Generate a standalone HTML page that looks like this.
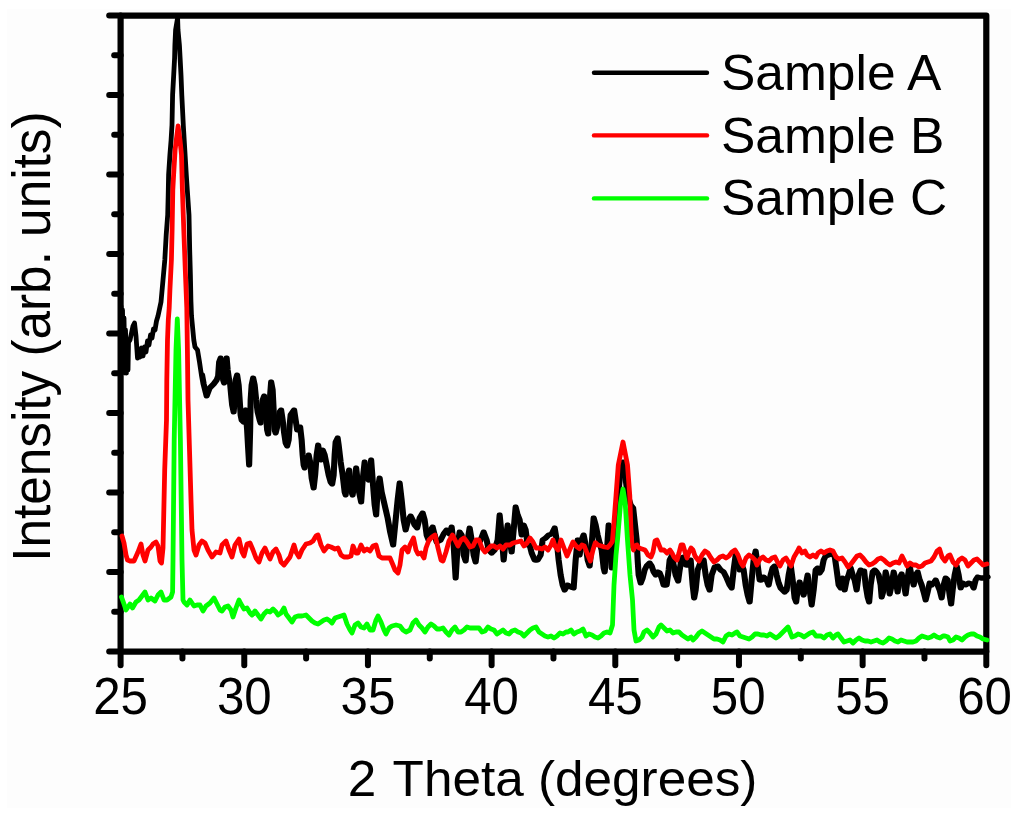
<!DOCTYPE html>
<html><head><meta charset="utf-8"><style>
html,body{margin:0;padding:0;background:#fff;}
svg{display:block;}
text{font-family:"Liberation Sans",sans-serif;fill:#000;}
</style></head><body>
<svg width="1024" height="819" viewBox="0 0 1024 819">
<rect x="0" y="0" width="1024" height="819" fill="#ffffff"/>
<rect x="7" y="9" width="1004" height="799" fill="#fdfdfd"/>
<g stroke="#000" stroke-width="6.0" stroke-linecap="round" fill="none">
<line x1="120.6" y1="15.60" x2="109.2" y2="15.60"/>
<line x1="120.6" y1="55.35" x2="114.2" y2="55.35"/>
<line x1="120.6" y1="95.10" x2="109.2" y2="95.10"/>
<line x1="120.6" y1="134.85" x2="114.2" y2="134.85"/>
<line x1="120.6" y1="174.60" x2="109.2" y2="174.60"/>
<line x1="120.6" y1="214.35" x2="114.2" y2="214.35"/>
<line x1="120.6" y1="254.10" x2="109.2" y2="254.10"/>
<line x1="120.6" y1="293.85" x2="114.2" y2="293.85"/>
<line x1="120.6" y1="333.60" x2="109.2" y2="333.60"/>
<line x1="120.6" y1="373.35" x2="114.2" y2="373.35"/>
<line x1="120.6" y1="413.10" x2="109.2" y2="413.10"/>
<line x1="120.6" y1="452.85" x2="114.2" y2="452.85"/>
<line x1="120.6" y1="492.60" x2="109.2" y2="492.60"/>
<line x1="120.6" y1="532.35" x2="114.2" y2="532.35"/>
<line x1="120.6" y1="572.10" x2="109.2" y2="572.10"/>
<line x1="120.6" y1="611.85" x2="114.2" y2="611.85"/>
<line x1="120.6" y1="651.60" x2="109.2" y2="651.60"/>
<line x1="120.60" y1="651.6" x2="120.60" y2="665.3"/>
<line x1="182.44" y1="651.6" x2="182.44" y2="658.5"/>
<line x1="244.27" y1="651.6" x2="244.27" y2="665.3"/>
<line x1="306.11" y1="651.6" x2="306.11" y2="658.5"/>
<line x1="367.94" y1="651.6" x2="367.94" y2="665.3"/>
<line x1="429.78" y1="651.6" x2="429.78" y2="658.5"/>
<line x1="491.61" y1="651.6" x2="491.61" y2="665.3"/>
<line x1="553.45" y1="651.6" x2="553.45" y2="658.5"/>
<line x1="615.29" y1="651.6" x2="615.29" y2="665.3"/>
<line x1="677.12" y1="651.6" x2="677.12" y2="658.5"/>
<line x1="738.96" y1="651.6" x2="738.96" y2="665.3"/>
<line x1="800.79" y1="651.6" x2="800.79" y2="658.5"/>
<line x1="862.63" y1="651.6" x2="862.63" y2="665.3"/>
<line x1="924.46" y1="651.6" x2="924.46" y2="658.5"/>
<line x1="986.30" y1="651.6" x2="986.30" y2="665.3"/>
</g>
<rect x="120.6" y="15.6" width="865.70" height="636.00" fill="none" stroke="#000" stroke-width="6.2" stroke-linejoin="round"/>
<g fill="none" stroke-width="4.8" stroke-linejoin="round" stroke-linecap="round">
<path stroke="#000" d="M121,306 L122,340 L122.5,310 L123.5,372 L124,318 L125,373 L125.5,330 L126.5,373 L127,340 L128,370 L128.5,342 L130,340 L131.5,333 L133,326 L134.5,323 L136,336 L137.5,358 L139,350 L140,357 L141.5,348 L143,356 L144.5,347 L146,352 L147.5,341 L149,345 L150.5,335 L152,338 L153.5,329 L155,330 L156.5,321 L158,316 L159.5,309 L161,302 L163,280 L164.8,260 L166.2,235 L167.7,215 L168.2,195 L168.6,175 L169.9,155 L171.1,140 L172,125 L172.6,95 L173.7,75 L174.6,58 L174.9,45 L175.6,30 L177.6,18 L178,30 L179.4,45 L180.1,58 L181,75 L181.8,95 L183.3,125 L185.1,155 L186.3,175 L187.3,190 L189,215 L189.7,250 L190.4,275 L190.9,300 L191.5,316 L193.8,340 L195,347 L197.5,350 L198.5,356 L199.5,362 L201.4,375 L203,384 L204.5,390 L206,396 L207.5,392 L209,388 L211,386 L213,384 L216,380 L217.5,376 L218.5,362 L220,358 L221.5,362 L222.5,380 L223.5,383 L225,370 L226,358 L227,370 L228.5,380 L229.5,384 L230.5,395 L231.5,405 L233,412 L234,400 L235,380 L236.5,375 L238,385 L239,400 L240,415 L241,420 L243,422 L244,412 L245,410 L246.5,430 L247.5,448 L248.5,465 L249.5,430 L250,400 L251,385 L252.5,378 L254,385 L255.5,400 L257,412 L259,420 L260,423 L261,410 L262,400 L263.5,396 L265,410 L266.5,430 L267.5,434 L268.5,420 L269.5,395 L270.5,382 L272,390 L273,410 L274,430 L275,433 L277,425 L279,412 L280.5,410 L282,420 L283.5,433 L285,443 L286.5,446 L288,440 L289,425 L290,415 L293.5,410 L295,420 L296.5,430 L298,428 L299.5,427 L301,440 L302,455 L303,465 L304,468 L306,460 L308,455 L309.5,462 L311,478 L313,488 L314.5,475 L316,455 L317.5,445 L319,455 L320.5,460 L322,450 L324,455 L326,465 L328,475 L330,482 L331.5,484 L333,475 L334,455 L335,442 L337,438 L338,445 L340,462 L342,475 L344,492 L345,495 L347,475 L348.5,470 L350,490 L352,495 L354,480 L355.5,468 L358,490 L360.5,502 L362,480 L364,462 L366,478 L368,480 L370.5,460 L372,480 L374,505 L375.5,515 L377,490 L379,478 L381,492 L384,505 L387,518 L389.5,532 L392.5,545 L395,520 L397,500 L399,483 L401,500 L403,520 L405,530 L407.5,520 L410,516 L412,520 L414,525 L416.5,528 L419,518 L422,513 L424,520 L426,535 L428,540 L430,530 L432,527 L434,535 L436,542 L440,540 L443,534 L446,530 L449,534 L451,527 L453,545 L455,578 L457,545 L459,532 L461,535 L463,555 L465,561 L467,540 L469,528 L471,540 L473,555 L475,562 L477,545 L480,540 L483,532 L486,540 L488,550 L491,553 L494,550 L497,540 L499,515 L501,535 L503,560 L505,540 L507,525 L509,540 L511,552 L513,530 L515,507 L517,515 L519,520 L521,535 L523,525 L525,530 L527,545 L529,545 L531,553 L534,560 L537,560 L540,555 L542,540 L545,538 L548,535 L551,534 L554,528 L556,540 L558,560 L560,575 L562,585 L564,590 L567,585 L570,587 L573,588 L575,560 L577,540 L579,555 L581,540 L583,535 L585,545 L587,560 L589,566 L591,545 L593,518 L595,525 L597,535 L599,543 L601,550 L603,568 L604,572 L606,555 L608,525 L610,540 L611,568 L613,545 L615,520 L618,490 L620,470 L622.5,462 L624.5,475 L627,495 L630,505 L632.5,508 L636,540 L637,560 L638,575 L640,583 L642,578 L644,570 L646,566 L649,563 L651,566 L653,572 L655,575 L657,572 L659,573 L661,578 L663,585 L666,585 L668,570 L669,560 L671,556 L673,565 L675,575 L677.5,581 L679,570 L681,558 L683,557 L685,565 L688,565 L690,560 L692,585 L693.5,598 L695,590 L697,570 L699,565 L700,562 L703,560 L705,575 L707,585 L709,590 L711,575 L714,567 L717,566 L720,570 L723,572 L726,578 L729,585 L731,588 L733,570 L735,555 L737,560 L739,570 L741,565 L743,570 L745,585 L747,595 L749,602 L751,580 L753,560 L755,551 L757,565 L759,580 L761,580 L763,577 L766,580 L768,585 L770,575 L772,568 L774,566 L776,575 L778,583 L780,588 L782,590 L784,592 L786,590 L788,575 L790,565 L792,580 L794,598 L795.5,602 L797,590 L799,582 L801,590 L803,595 L805,585 L807,575 L809,590 L811,605 L813,590 L815,570 L817,568 L819,573 L821,570 L823,560 L825,556 L828,555 L831,554 L834,556 L836,570 L838,585 L840,588 L842,578 L844,590 L846,580 L848,575 L850,568 L852,575 L854,580 L856,590 L858,575 L860,570 L862,573 L863.5,571 L865,585 L867,597 L868.5,602 L870,585 L872,572 L874,570 L876,572 L878,575 L880,585 L881,597 L883,590 L885,572 L887,580 L889,594 L891,585 L893,572 L895,580 L897,592 L899,578 L901,574 L903,583 L905,594 L907,578 L909,566 L911,577 L913,585 L915,575 L917,572 L919,580 L921,585 L923,592 L925,600 L927,592 L929,583 L931,585 L933,583 L935,580 L937,585 L939,590 L941,598 L943,585 L945,578 L947,580 L949,595 L950.5,604 L952,590 L954,575 L956,566 L958,575 L960,588 L962,583 L965,585 L968,583 L971,584 L973,588 L975,580 L977,577 L980,578 L983,578 L987,577"/>
<path stroke="#000" transform="translate(1.3,0)" d="M201.4,375 L203,384 L204.5,390 L206,396 L207.5,392 L209,388 L211,386 L213,384 L216,380 L217.5,376 L218.5,362 L220,358 L221.5,362 L222.5,380 L223.5,383 L225,370 L226,358 L227,370 L228.5,380 L229.5,384 L230.5,395 L231.5,405 L233,412 L234,400 L235,380 L236.5,375 L238,385 L239,400 L240,415 L241,420 L243,422 L244,412 L245,410 L246.5,430 L247.5,448 L248.5,465 L249.5,430 L250,400 L251,385 L252.5,378 L254,385 L255.5,400 L257,412 L259,420 L260,423 L261,410 L262,400 L263.5,396 L265,410 L266.5,430 L267.5,434 L268.5,420 L269.5,395 L270.5,382 L272,390 L273,410 L274,430 L275,433 L277,425 L279,412 L280.5,410 L282,420 L283.5,433 L285,443 L286.5,446 L288,440 L289,425 L290,415 L293.5,410 L295,420 L296.5,430 L298,428 L299.5,427 L301,440 L302,455 L303,465 L304,468 L306,460 L308,455 L309.5,462 L311,478 L313,488 L314.5,475 L316,455 L317.5,445 L319,455 L320.5,460 L322,450 L324,455 L326,465 L328,475 L330,482 L331.5,484 L333,475 L334,455 L335,442 L337,438 L338,445 L340,462 L342,475 L344,492 L345,495 L347,475 L348.5,470 L350,490 L352,495 L354,480 L355.5,468 L358,490 L360.5,502 L362,480 L364,462 L366,478 L368,480 L370.5,460 L372,480 L374,505 L375.5,515 L377,490 L379,478 L381,492 L384,505 L387,518 L389.5,532 L392.5,545 L395,520 L397,500 L399,483 L401,500 L403,520 L405,530 L407.5,520 L410,516 L412,520 L414,525 L416.5,528 L419,518 L422,513 L424,520 L426,535 L428,540 L430,530 L432,527 L434,535 L436,542 L440,540 L443,534 L446,530 L449,534 L451,527 L453,545 L455,578 L457,545 L459,532 L461,535 L463,555 L465,561 L467,540 L469,528 L471,540 L473,555 L475,562 L477,545 L480,540 L483,532 L486,540 L488,550 L491,553 L494,550 L497,540 L499,515 L501,535 L503,560 L505,540 L507,525 L509,540 L511,552 L513,530 L515,507 L517,515 L519,520 L521,535 L523,525 L525,530 L527,545 L529,545 L531,553 L534,560 L537,560 L540,555 L542,540 L545,538 L548,535 L551,534 L554,528 L556,540 L558,560 L560,575 L562,585 L564,590 L567,585 L570,587 L573,588 L575,560 L577,540 L579,555 L581,540 L583,535 L585,545 L587,560 L589,566 L591,545 L593,518 L595,525 L597,535 L599,543 L601,550 L603,568 L604,572 L606,555 L608,525 L610,540 L611,568 L613,545 L615,520 L618,490 L620,470 L622.5,462 L624.5,475 L627,495 L630,505 L632.5,508 L636,540 L637,560 L638,575 L640,583 L642,578 L644,570 L646,566 L649,563 L651,566 L653,572 L655,575 L657,572 L659,573 L661,578 L663,585 L666,585 L668,570 L669,560 L671,556 L673,565 L675,575 L677.5,581 L679,570 L681,558 L683,557 L685,565 L688,565 L690,560 L692,585 L693.5,598 L695,590 L697,570 L699,565 L700,562 L703,560 L705,575 L707,585 L709,590 L711,575 L714,567 L717,566 L720,570 L723,572 L726,578 L729,585 L731,588 L733,570 L735,555 L737,560 L739,570 L741,565 L743,570 L745,585 L747,595 L749,602 L751,580 L753,560 L755,551 L757,565 L759,580 L761,580 L763,577 L766,580 L768,585 L770,575 L772,568 L774,566 L776,575 L778,583 L780,588 L782,590 L784,592 L786,590 L788,575 L790,565 L792,580 L794,598 L795.5,602 L797,590 L799,582 L801,590 L803,595 L805,585 L807,575 L809,590 L811,605 L813,590 L815,570 L817,568 L819,573 L821,570 L823,560 L825,556 L828,555 L831,554 L834,556 L836,570 L838,585 L840,588 L842,578 L844,590 L846,580 L848,575 L850,568 L852,575 L854,580 L856,590 L858,575 L860,570 L862,573 L863.5,571 L865,585 L867,597 L868.5,602 L870,585 L872,572 L874,570 L876,572 L878,575 L880,585 L881,597 L883,590 L885,572 L887,580 L889,594 L891,585 L893,572 L895,580 L897,592 L899,578 L901,574 L903,583 L905,594 L907,578 L909,566 L911,577 L913,585 L915,575 L917,572 L919,580 L921,585 L923,592 L925,600 L927,592 L929,583 L931,585 L933,583 L935,580 L937,585 L939,590 L941,598 L943,585 L945,578 L947,580 L949,595 L950.5,604 L952,590 L954,575 L956,566 L958,575 L960,588 L962,583 L965,585 L968,583 L971,584 L973,588 L975,580 L977,577 L980,578 L983,578 L987,577"/>
<path stroke="#ff0000" d="M122,536 L124,543 L126,555 L127.5,560 L130,561 L134,561 L138,552 L141,544 L143,555 L145,561 L148,550 L151,547 L153,544 L156,542 L158,546 L160,561 L161.5,563 L163,548 L164.7,470 L166.5,420 L166.8,380 L167.5,340 L168.3,320 L169.2,308 L169.9,290 L171.4,260 L172.1,230 L172.8,190 L173.6,175 L175.1,150 L176.3,140 L178.1,126 L180,140 L181.5,155 L182.4,190 L183.8,230 L185.3,270 L186.8,308 L187.4,350 L188,400 L189.5,450 L191,500 L192,530 L194,550 L196,555 L199,545 L202,541 L205,543 L208,550 L212,557 L216,552 L220,553 L222,545 L226,541 L229,550 L232,557 L235,545 L239,539 L242,552 L244,556 L247,544 L250,543 L253,550 L256,558 L259,562 L262,553 L265,548 L268,555 L270,559 L273,552 L276,549 L279,555 L281,562 L284,565 L287,561 L290,557 L294,545 L296,552 L299,557 L302,550 L306,544 L310,543 L313,541 L316,536 L318,535 L321,545 L324,551 L328,546 L331,547 L335,549 L338,548 L341,555 L344,557 L348,557 L351,556 L353,546 L356,553 L358,553 L361,545 L364,551 L367,549 L370,551 L373,546 L376,545 L379,556 L382,558 L386,558 L390,558 L393,565 L395,570 L398,573 L400,565 L402,550 L405,547 L408,552 L410,545 L413.5,538 L416,550 L418,554 L421,553 L424,558 L426,548 L429,540 L432,537 L435,535 L438,548 L441,560 L443,561 L446,552 L449,541 L452.5,535 L456,542 L458,546 L461,540 L464,538 L467,542 L470,547 L473,546 L476,540 L479,540 L482,548 L485,552 L488,549 L491,546 L494,546 L497,548 L500,546 L503,549 L506,545 L510,545 L513,543 L517,542 L521,541 L524,546 L527,543 L530,538 L533,542 L536,548 L539,548 L542,549 L545,547 L548,550 L551,545 L553,540 L555,546 L558,550 L561,540 L564,548 L567,556 L570,549 L573,542 L576,546 L579.4,548.7 L582,545 L584.3,546 L587,553 L590.4,561 L593,550 L595.3,542.6 L598,545 L601.4,546 L604.5,547 L607.5,547.5 L610,545 L612.4,541.4 L613.7,526 L616,496 L618.3,465 L623,442 L627.5,465 L629.8,496 L630.8,526 L632,546 L633.5,550 L635,546 L637,545 L639,548 L642,549 L645,550 L648,555 L651,557 L653,552 L655,541 L657,540 L659,545 L661,550 L664,550 L667,553 L670,550 L672,553 L674,557 L677,560 L679,553 L681,545 L683,545 L685,552 L687,558 L689,552 L691,548 L693,550 L695,556 L698,560 L699,561 L702,555 L705,551 L708,553 L711,558 L714,562 L717,560 L720,557 L723,556 L726,558 L729,556 L732,552 L735,550 L738,555 L741,563 L743,566 L746,558 L749,555 L752,557 L755,560 L757,565 L760,559 L763,557 L766,560 L769,561 L772,558 L775,557 L778,563 L780,566 L783,560 L786,558 L789,563 L791,566 L794,557 L797,552 L799,548 L802,553 L805,551 L807,555 L810,557 L813,555 L816,557 L818,553 L821,551 L824,553 L827,551 L830,550 L833,551 L836,557 L839,559 L842,558 L845,562 L848,567 L851,564 L854,560 L857,556 L860,555 L863,558 L866,562 L869,565 L872,564 L875,562 L878,559 L881,558 L884,560 L887,563 L890,565 L893,563 L896,562 L899,563 L902,556 L905,562 L907,566 L910,563 L913,565 L916,565 L919,567 L922,566 L925,563 L928,562 L931,561 L934,557 L937,551 L939.5,549 L942,557 L945,561 L948,556 L950,555 L953,562 L956,565 L959,560 L962,558 L965,560 L968,566 L971,563 L974,560 L977,559 L980,562 L983,565 L987,564"/>
<path stroke="#00ff00" d="M121.5,597 L124,604 L126,610 L130,604 L132.5,608 L136,602 L139,600 L142,596 L145,592 L148,600 L151,598 L155,601 L158,595 L161,592 L164,600 L167,600 L171,597 L172.6,592 L173,560 L173.6,500 L174.2,440 L175,400 L176,350 L177.3,319 L178.6,350 L179.6,400 L180.4,440 L181.2,500 L182,560 L183,600 L184,602 L187,605 L190,600 L194,606 L197,605 L200,605 L203,611 L206,606 L210,603 L214,598 L217,604 L220,610 L222,611 L225,607 L228,606 L231,610 L233,617 L236,608 L239,600 L241,604 L244,609 L247,608 L250,613 L252,615 L255,611 L258,615 L261,619 L264,614 L267,611 L270,612 L273,609 L276,612 L278,615 L281,613 L284,608 L286,614 L289,618 L292,622 L295,617 L298,616 L302,616 L306,615 L309,618 L312,621 L315,623 L318,624 L321,622 L324,620 L327,619 L330,621 L332,623 L335,618 L338,617 L341,616 L344,615 L347,624 L350,630 L352,633 L355,625 L358,623 L361,627 L364,628 L367,624 L370,630 L373,630 L376,620 L378,616 L381,622 L384,630 L386,634 L389,628 L392,626 L396,625 L400,626 L403,630 L406,632 L410,630 L413,623 L416,620 L419,625 L422,628 L425,632 L428,627 L431,624 L434,626 L437,629 L440,629 L443,628 L446,632 L449,635 L452,630 L455,627 L458,632 L461,632 L464,630 L467,627 L470,628 L473,628 L476,628 L479,628 L482,632 L485,631 L488,627 L491,629 L494,630 L497,634 L500,632 L503,630 L506,633 L509,634 L512,631 L515,630 L518,632 L521,633 L524,636 L527,633 L530,630 L533,628 L536,627 L539,632 L542,634 L545,636 L548,637 L551,636 L554,638 L557,636 L560,633 L563,634 L566,632 L568,632 L571,630 L574,634 L577,632 L580,631 L583,629 L586,636 L589,634 L592,635 L595,637 L598,638 L601,636 L604,633 L607,632 L610,633 L612.5,625 L614,585 L616,555 L617.5,540 L620.6,503 L623,489 L625.2,503 L627.5,540 L630,575 L632.5,600 L634,630 L636,641 L639,640 L642,637 L644,632 L647,630 L650,633 L653,637 L656,634 L659,627 L661,625 L664,628 L667,631 L670,630 L673,633 L676,632 L679,632 L682,635 L685,637 L688,639 L691,637 L693,640 L696,637 L699,633 L702,631 L705,633 L708,635 L711,637 L714,639 L717,639 L720,640 L723,642 L726,636 L729,634 L732,635 L735,633 L737,632 L740,636 L743,637 L746,638 L749,639 L752,637 L755,634 L758,634 L761,635 L764,635 L767,636 L770,634 L773,636 L776,638 L779,636 L782,633 L785,630 L788,627 L790,632 L792,637 L795,636 L798,634 L801,635 L804,637 L807,635 L810,633 L813,632 L816,636 L818,636 L821,636 L824,638 L827,635 L830,634 L833,638 L836,635 L838,634 L841,638 L844,642 L847,641 L850,640 L853,643 L856,640 L859,638 L862,640 L865,641 L868,641 L871,642 L874,641 L877,640 L880,642 L883,643 L886,641 L889,638 L892,639 L895,641 L898,642 L901,640 L904,641 L907,642 L910,642 L913,642 L916,641 L919,638 L922,636 L925,637 L928,638 L931,637 L934,635 L937,637 L940,638 L943,636 L945,636 L948,637 L950,641 L953,640 L956,637 L959,638 L962,640 L965,637 L968,635 L971,634 L974,634 L977,636 L980,637 L983,639 L987,640"/>
</g>
<g font-size="51">
<text transform="translate(120.60,713.5) scale(0.965,1)" text-anchor="middle">25</text>
<text transform="translate(244.27,713.5) scale(0.965,1)" text-anchor="middle">30</text>
<text transform="translate(367.94,713.5) scale(0.965,1)" text-anchor="middle">35</text>
<text transform="translate(491.61,713.5) scale(0.965,1)" text-anchor="middle">40</text>
<text transform="translate(615.29,713.5) scale(0.965,1)" text-anchor="middle">45</text>
<text transform="translate(738.16,713.5) scale(0.965,1)" text-anchor="middle">50</text>
<text transform="translate(862.63,713.5) scale(0.965,1)" text-anchor="middle">55</text>
<text transform="translate(984.50,713.5) scale(0.965,1)" text-anchor="middle">60</text>
</g>
<text transform="translate(347.8,796.1) scale(0.996,0.96)" font-size="51.5">2 <tspan dx="2">Theta (degrees)</tspan></text>
<text transform="translate(49.8,561.8) rotate(-90) scale(1.0,1.035)" font-size="51.3">Intensity (arb. units)</text>
<g stroke-width="4.4" stroke-linecap="round">
<line x1="594" y1="72.7" x2="707" y2="72.7" stroke="#000"/>
<line x1="594" y1="135.4" x2="707" y2="135.4" stroke="#ff0000"/>
<line x1="594" y1="198.4" x2="707" y2="198.4" stroke="#00ff00"/>
</g>
<g font-size="51.5">
<text transform="translate(721,90.3) scale(1.0,0.96)">Sample A</text>
<text transform="translate(721,152.7) scale(1.0,0.96)">Sample B</text>
<text transform="translate(721,215.2) scale(1.0,0.96)">Sample C</text>
</g>
</svg>
</body></html>
